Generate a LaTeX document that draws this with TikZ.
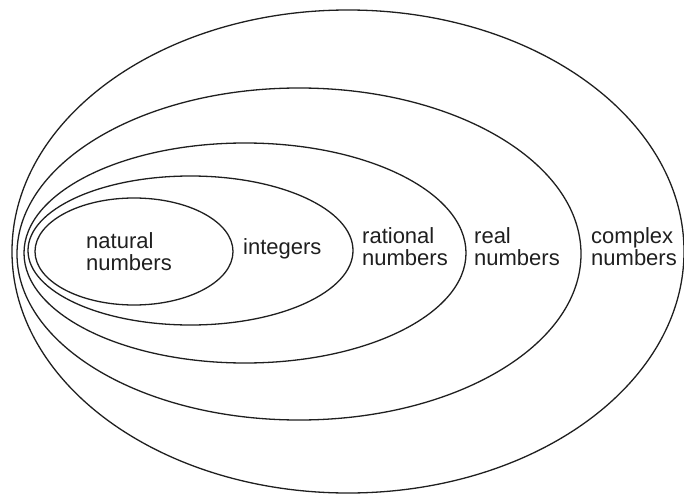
\documentclass[tikz,border=0pt]{standalone}
\usepackage{fontspec}
\setmainfont{Liberation Sans}
\begin{document}
\begin{tikzpicture}[x=1pt,y=-1pt,
  setline/.style={line width=1.3pt, draw=black!88},
  setlabel/.style={anchor=base west, inner sep=0pt, align=left,
    font=\fontsize{22}{21.8}\selectfont, text=black!88}]
  \useasboundingbox (0,0) rectangle (684,497);
  % nested sets, outermost first
  \draw[setline] (348,251.5) ellipse [x radius=336, y radius=241.5];
  \draw[setline] (299,254)   ellipse [x radius=282, y radius=166];
  \draw[setline] (245,253)   ellipse [x radius=221, y radius=110];
  \draw[setline] (190.5,250.5) ellipse [x radius=162.5, y radius=74.5];
  \draw[setline] (134,251.5) ellipse [x radius=99, y radius=53.5];
  % labels (base anchor sits on the last line)
  \node[setlabel] (nat) at (86,270) {natural\\numbers};
  \node[setlabel] (int) at (243,254) {integers};
  \node[setlabel] (rat) at (362,265) {rational\\numbers};
  \node[setlabel] (rea) at (474,265) {real\\numbers};
  \node[setlabel] (com) at (591,265) {complex\\numbers};
\end{tikzpicture}
\end{document}
